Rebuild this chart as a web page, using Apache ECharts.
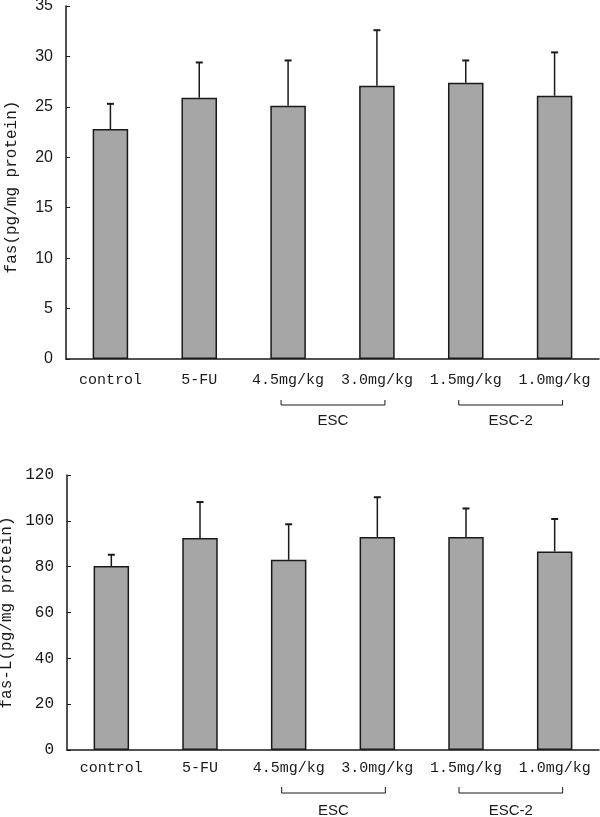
<!DOCTYPE html>
<html>
<head>
<meta charset="utf-8">
<script src="https://cdn.jsdelivr.net/npm/echarts@6/dist/echarts.min.js"></script>
<style>
html,body{margin:0;padding:0;background:#fff;}
#chart{width:600px;height:817px;}
</style>
</head>
<body>
<div id="chart"></div>
<script>
// ---- data ----
var categories = ['control', '5-FU', '4.5mg/kg', '3.0mg/kg', '1.5mg/kg', '1.0mg/kg'];
var fasMean = [22.8, 25.9, 25.1, 27.1, 27.4, 26.1];
var fasErr = [2.5, 3.5, 4.5, 5.5, 2.2, 4.3];
var fasLMean = [80.3, 92.5, 83.0, 93.0, 93.0, 86.6];
var fasLErr = [4.9, 15.7, 15.5, 17.3, 12.4, 14.2];
var fasTicks = {min: 0, max: 35, interval: 5};
var fasLTicks = {min: 0, max: 120, interval: 20};
var groups = [
  {name: 'ESC', from: 2, to: 3},
  {name: 'ESC-2', from: 4, to: 5}
];

var INK = '#1a1a1a';
var BAR = '#a6a6a6';
var MONO = '"Liberation Mono", "DejaVu Sans Mono", monospace';
var SANS = '"Liberation Sans", Arial, sans-serif';

function errData(mean, err) {
  return mean.map(function (m, i) { return [i, m, m + err[i]]; });
}

function errRender(params, api) {
  var x = api.value(0);
  var lo = api.coord([x, api.value(1)]);
  var hi = api.coord([x, api.value(2)]);
  var half = 3.5;
  return {
    type: 'group',
    children: [
      {type: 'line', shape: {x1: lo[0], y1: lo[1], x2: hi[0], y2: hi[1]},
       style: {stroke: INK, lineWidth: 1.5}},
      {type: 'line', shape: {x1: hi[0] - half, y1: hi[1], x2: hi[0] + half, y2: hi[1]},
       style: {stroke: INK, lineWidth: 2}}
    ]
  };
}

function xAxisDef(gridIndex, margin) {
  return {
    type: 'category', gridIndex: gridIndex, data: categories,
    axisLine: {lineStyle: {color: INK, width: 1.5}},
    axisTick: {inside: true, length: 4, lineStyle: {color: INK, width: 1}},
    axisLabel: {color: INK, fontFamily: MONO, fontSize: 15, margin: margin, interval: 0},
    splitLine: {show: false}
  };
}

function yAxisDef(gridIndex, ticks, name, labelFont, namePad) {
  return {
    type: 'value', gridIndex: gridIndex,
    min: ticks.min, max: ticks.max, interval: ticks.interval,
    name: name, nameLocation: 'middle', nameRotate: 90, nameGap: 46,
    nameTextStyle: {color: INK, fontFamily: MONO, fontSize: 16, padding: namePad},
    axisLine: {show: true, lineStyle: {color: INK, width: 1.5}},
    axisTick: {show: true, inside: true, length: 4, lineStyle: {color: INK, width: 1}},
    axisLabel: {color: INK, fontFamily: labelFont, fontSize: 16, margin: 13},
    splitLine: {show: false}
  };
}

var chart = echarts.init(document.getElementById('chart'), null, {renderer: 'canvas'});
chart.setOption({
  animation: false,
  backgroundColor: '#fff',
  grid: [
    {left: 66, right: 1, top: 6, height: 353, containLabel: false, outerBoundsMode: 'none'},
    {left: 67, right: 1, top: 475, height: 275, containLabel: false, outerBoundsMode: 'none'}
  ],
  xAxis: [xAxisDef(0, 14), xAxisDef(1, 11)],
  yAxis: [
    yAxisDef(0, fasTicks, 'fas(pg/mg protein)', SANS, [0, 9, 0, 0]),
    yAxisDef(1, fasLTicks, 'fas-L(pg/mg protein)', MONO, [0, 0, 0, 0])
  ],
  series: [
    {type: 'bar', xAxisIndex: 0, yAxisIndex: 0, data: fasMean, barWidth: '40%',
     itemStyle: {color: BAR, borderColor: INK, borderWidth: 1.5}},
    {type: 'custom', xAxisIndex: 0, yAxisIndex: 0, data: errData(fasMean, fasErr),
     renderItem: errRender, z: 3},
    {type: 'bar', xAxisIndex: 1, yAxisIndex: 1, data: fasLMean, barWidth: '40%',
     itemStyle: {color: BAR, borderColor: INK, borderWidth: 1.5}},
    {type: 'custom', xAxisIndex: 1, yAxisIndex: 1, data: errData(fasLMean, fasLErr),
     renderItem: errRender, z: 3}
  ]
});

// group brackets below the category labels
function bracketGraphics(axisIndex, gridIdx, offTop, offLine, offText) {
  var out = [];
  var axisY = chart.convertToPixel({yAxisIndex: gridIdx}, 0);
  groups.forEach(function (g) {
    var x1 = chart.convertToPixel({xAxisIndex: axisIndex}, g.from) - 7;
    var x2 = chart.convertToPixel({xAxisIndex: axisIndex}, g.to) + 8;
    out.push({
      type: 'polyline',
      shape: {points: [[x1, axisY + offTop], [x1, axisY + offLine], [x2, axisY + offLine], [x2, axisY + offTop]]},
      style: {stroke: INK, lineWidth: 1, fill: null}
    });
    out.push({
      type: 'text',
      x: (x1 + x2) / 2, y: axisY + offText,
      style: {text: g.name, font: '15px ' + SANS, fill: INK, align: 'center', verticalAlign: 'middle'}
    });
  });
  return out;
}

chart.setOption({
  graphic: bracketGraphics(0, 0, 41, 46, 62).concat(bracketGraphics(1, 1, 37, 43, 61))
});
</script>
</body>
</html>
